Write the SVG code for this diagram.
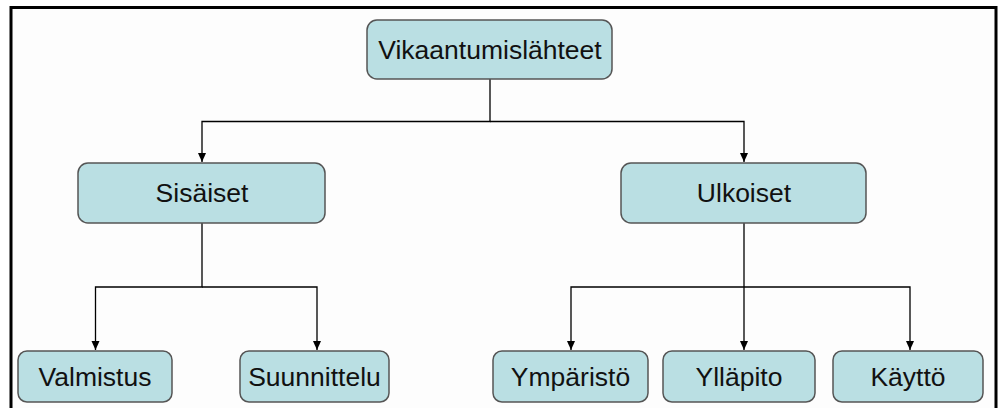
<svg xmlns="http://www.w3.org/2000/svg" width="999" height="408" viewBox="0 0 999 408">
  <style>
    .box { fill: #badfe3; stroke: #555; stroke-width: 1.5; }
    .lbl { font-family: "Liberation Sans", Arial, sans-serif; font-size: 26.5px; fill: #111; text-anchor: middle; }
    .wire { fill: none; stroke: #000; stroke-width: 1.3; }
  </style>
  <defs>
    <marker id="arrow" markerWidth="10" markerHeight="10" refX="9" refY="5" orient="auto" markerUnits="userSpaceOnUse">
      <path d="M0,1 L9,5 L0,9 Z" fill="#000"/>
    </marker>
  </defs>

  <rect x="0" y="0" width="999" height="408" fill="#fff"/>
  <!-- frame -->
  <rect x="11" y="7.5" width="985" height="401" fill="#fdfdfd"/>
  <path d="M11,408 V7.5 H996 V408" fill="none" stroke="#000" stroke-width="3"/>

  <g id="connectors">
    <path class="wire" d="M490,79 V121.5 H202 V162" marker-end="url(#arrow)"/>
    <path class="wire" d="M490,121.5 H744 V162" marker-end="url(#arrow)"/>
    <path class="wire" d="M202,223 V287 H95.5 V350" marker-end="url(#arrow)"/>
    <path class="wire" d="M202,287 H317 V350" marker-end="url(#arrow)"/>
    <path class="wire" d="M744,223 V350" marker-end="url(#arrow)"/>
    <path class="wire" d="M744,287 H571 V350" marker-end="url(#arrow)"/>
    <path class="wire" d="M744,287 H910 V350" marker-end="url(#arrow)"/>
  </g>

  <g id="node-root">
    <rect class="box" x="367" y="20" width="245" height="59" rx="10"/>
    <text class="lbl" x="490" y="58.5">Vikaantumislähteet</text>
  </g>
  <g id="node-sisaiset">
    <rect class="box" x="78" y="163" width="247" height="60" rx="10"/>
    <text class="lbl" x="202" y="202">Sisäiset</text>
  </g>
  <g id="node-ulkoiset">
    <rect class="box" x="621" y="163" width="245" height="60" rx="10"/>
    <text class="lbl" x="744" y="202">Ulkoiset</text>
  </g>
  <g id="node-valmistus">
    <rect class="box" x="18" y="351" width="154" height="51" rx="9"/>
    <text class="lbl" x="95" y="386">Valmistus</text>
  </g>
  <g id="node-suunnittelu">
    <rect class="box" x="240" y="351" width="149" height="51" rx="9"/>
    <text class="lbl" x="314.5" y="386">Suunnittelu</text>
  </g>
  <g id="node-ymparisto">
    <rect class="box" x="493" y="351" width="155" height="51" rx="9"/>
    <text class="lbl" x="570.5" y="386">Ympäristö</text>
  </g>
  <g id="node-yllapito">
    <rect class="box" x="663" y="351" width="152" height="51" rx="9"/>
    <text class="lbl" x="739" y="386">Ylläpito</text>
  </g>
  <g id="node-kaytto">
    <rect class="box" x="833" y="351" width="150" height="51" rx="9"/>
    <text class="lbl" x="908" y="386">Käyttö</text>
  </g>
</svg>
